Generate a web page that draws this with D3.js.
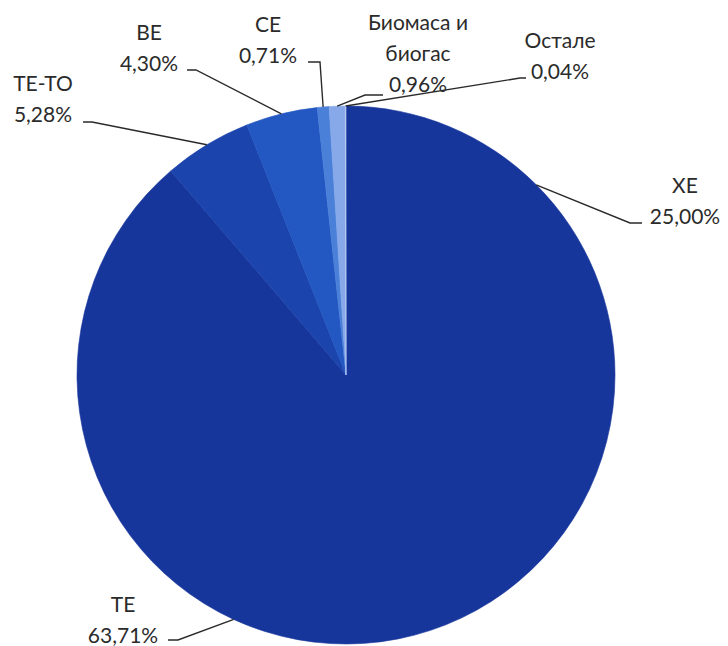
<!DOCTYPE html>
<html>
<head>
<meta charset="utf-8">
<script src="https://cdn.jsdelivr.net/npm/d3@7/dist/d3.min.js"></script>
<style>
  html, body { margin: 0; padding: 0; background: #fff; }
  svg { display: block; }
</style>
</head>
<body>
<svg id="chart" width="728" height="646"></svg>
<script>
// ---- data ----
const categories = ["ХЕ", "ТЕ", "ТЕ-ТО", "ВЕ", "СЕ", "Биомаса и\nбиогас", "Остале"];
const shares = [25.00, 63.71, 5.28, 4.30, 0.71, 0.96, 0.04];
const sliceColors = ["#17369c", "#17369c", "#1b44ad", "#2357c2", "#4b80d9", "#88a9e9", "#bccdf2"];

// ---- layout (label placement, not data) ----
const labelLayout = [
  { cx: 685, y: 193, anchor: [642, 223], elbow: [630, 223] },
  { cx: 123, y: 612, anchor: [168, 640], elbow: [178, 640] },
  { cx: 43,  y: 91,  anchor: [83, 122],  elbow: [92, 122] },
  { cx: 149, y: 40,  anchor: [187, 70],  elbow: [196, 70] },
  { cx: 268, y: 32,  anchor: [308, 62],  elbow: [320, 62] },
  { cx: 418, y: 30,  anchor: [383, 95],  elbow: [365, 95] },
  { cx: 560, y: 48,  anchor: [526, 78],  elbow: [520, 78] }
];
const lineHeight = 31;

const svg = d3.select("#chart");
const cx = 346, cy = 375, R = 269;

const pie = d3.pie().sort(null).value(d => d)(shares);
const arc = d3.arc().innerRadius(0).outerRadius(R);

const g = svg.append("g").attr("transform", `translate(${cx},${cy})`);
g.selectAll("path.slice")
  .data(pie)
  .join("path")
  .attr("class", "slice")
  .attr("d", arc)
  .attr("fill", (d, i) => sliceColors[i])
  .attr("stroke", (d, i) => sliceColors[i])
  .attr("stroke-width", 0.6);

const fmt = v => d3.format(".2f")(v).replace(".", ",") + "%";

// leader lines
const edgePoint = d => {
  const a = (d.startAngle + d.endAngle) / 2;
  return [cx + R * Math.sin(a), cy - R * Math.cos(a)];
};
svg.append("g").selectAll("polyline")
  .data(pie)
  .join("polyline")
  .attr("points", (d, i) => {
    const L = labelLayout[i];
    const e = edgePoint(d);
    return [L.anchor, L.elbow, e].map(p => p.join(",")).join(" ");
  })
  .attr("fill", "none")
  .attr("stroke", "#2a2a2a")
  .attr("stroke-width", 1.4);

// labels
const labels = svg.append("g")
  .attr("font-family", "Lato, 'Open Sans', sans-serif")
  .attr("font-size", 21)
  .attr("fill", "#2b2b2b");
pie.forEach((d, i) => {
  const L = labelLayout[i];
  const lines = categories[i].split("\n").concat([fmt(shares[i])]);
  const t = labels.append("text").attr("text-anchor", "middle");
  lines.forEach((s, k) => {
    t.append("tspan").attr("x", L.cx).attr("y", L.y + k * lineHeight).text(s);
  });
});
</script>
</body>
</html>
